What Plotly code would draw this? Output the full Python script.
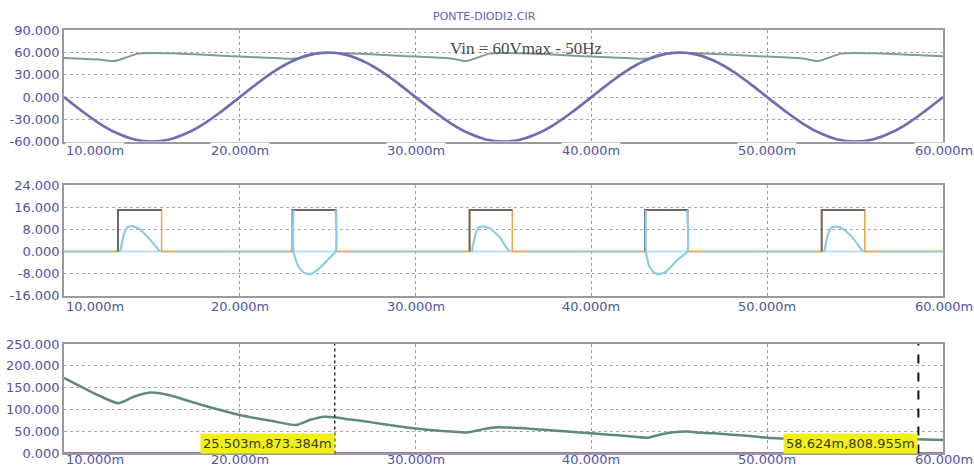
import plotly.graph_objects as go

# ---------------- data ----------------
X_TICKS = [10, 20, 30, 40, 50, 60]
X_TICK_TEXT = ["10.000m", "20.000m", "30.000m", "40.000m", "50.000m", "60.000m"]

Y1_TICKS = [-60, -30, 0, 30, 60, 90]
Y2_TICKS = [-16, -8, 0, 8, 16, 24]
Y3_TICKS = [0, 50, 100, 150, 200, 250]

TITLE = "PONTE-DIODI2.CIR"
SUBTITLE = "Vin = 60Vmax - 50Hz"

# top panel: input voltage (sampled every 1 ms)
T_VIN = list(range(10, 61))
VIN = [0, -18.5, -35.3, -48.5, -57.1, -60, -57.1, -48.5, -35.3, -18.5,
       0, 18.5, 35.3, 48.5, 57.1, 60, 57.1, 48.5, 35.3, 18.5,
       0, -18.5, -35.3, -48.5, -57.1, -60, -57.1, -48.5, -35.3, -18.5,
       0, 18.5, 35.3, 48.5, 57.1, 60, 57.1, 48.5, 35.3, 18.5,
       0, -18.5, -35.3, -48.5, -57.1, -60, -57.1, -48.5, -35.3, -18.5, 0]

# top panel: output voltage
T_VOUT = [10, 11, 12, 12.9, 13.5, 14.2, 15, 16, 17, 18, 19, 20, 21, 22, 23, 23.6, 24.2, 25,
          26, 27, 28, 29, 30, 31, 32, 32.9, 33.5, 34.2, 35, 36, 37, 38, 39, 40, 41, 42, 43,
          43.6, 44.2, 45, 46, 47, 48, 49, 50, 51, 52, 52.9, 53.5, 54.2, 55, 56, 57, 58, 59, 60]
VOUT = [52.5, 51.5, 50.5, 48.5, 53, 58.5, 59.5, 59, 58, 57, 55.5, 54.5, 53.5, 52.5, 51.5, 53.5, 57.5, 59.5,
        59, 58, 57, 55.5, 54.5, 53.5, 52, 48.5, 53, 58.5, 59.5, 59, 58, 57, 55.5, 54.5, 53.5, 52.5, 51.5,
        53.5, 57.5, 59.5, 59, 58, 57, 55.5, 54.5, 53.5, 52, 48.5, 53, 58.5, 59.5, 59, 58, 57, 56, 55]

# middle panel: diode current pulses
PULSE_START = [13.07, 23.0, 33.07, 43.05, 53.1]
PULSE_END = [15.55, 25.5, 35.5, 45.5, 55.55]
PULSE_HEIGHT = 15

# middle panel: capacitor current (cyan) shapes
CYAN_T = [13.2, 13.4, 13.6, 13.9, 14.3, 14.8, 15.2, 15.45, None,
          23.05, 23.05, 23.3, 23.6, 24.0, 24.4, 25.0, 25.45, 25.45, None,
          33.2, 33.4, 33.6, 33.9, 34.3, 34.8, 35.1, 35.35, None,
          43.1, 43.1, 43.3, 43.6, 43.9, 44.3, 44.9, 45.45, 45.45, None,
          53.25, 53.45, 53.65, 53.95, 54.35, 54.85, 55.2, 55.45]
CYAN_I = [0, 6, 8.8, 9.2, 8, 5, 2, 0, None,
          15, 0, -5, -7.5, -8.3, -6.8, -3, 0, 15, None,
          0, 6, 8.8, 9.1, 8, 5, 2, 0, None,
          15, 0, -5.5, -7.8, -8.2, -7, -3, 0, 15, None,
          0, 6, 8.6, 9.0, 8, 5, 2, 0]

# bottom panel
T_BOT = [10, 11, 12, 13.1, 14, 15, 16, 17, 18, 19, 20, 21, 22, 23.2, 24, 24.8, 25.5, 26, 27, 28,
         29, 30, 31, 32, 32.9, 33.8, 34.6, 35.5, 36, 37, 38, 39, 40, 41, 42, 43.2, 44, 44.8, 45.5,
         46, 47, 48, 49, 50, 51, 52, 53.2, 54, 55, 56, 57, 58, 59, 60]
V_BOT = [173, 152, 132, 115, 130, 139, 133, 121, 109, 98, 88, 80, 73, 65, 77, 84, 82, 79, 74, 68,
         62, 57, 53, 50, 48, 55, 60, 59, 58, 55, 52, 49, 46, 43, 40, 36, 44, 49, 50,
         48, 46, 43, 40, 36, 34, 32, 30, 34, 36, 35, 34, 33, 32, 31]
T_BOT0 = [10, 60]
V_BOT0 = [0.9, 0.8]

CURSOR_X = [25.4, 58.6]
CURSOR_TEXT = ["25.503m,873.384m", "58.624m,808.955m"]

# ---------------- figure ----------------
W, H = 974, 476
XD = [64 / W, 943 / W]
YD1 = [1 - 139 / H, 1 - 24 / H]
YD2 = [1 - 298 / H, 1 - 184 / H]
YD3 = [1 - 461 / H, 1 - 348 / H]

TICK_FONT = dict(family="DejaVu Sans", size=13, color="#5252a6")
LINE_C = "#9a9a9a"
GRID_H = "#a4a4c4"
GRID_V = "#9a9a9a"

fig = go.Figure()

# top
fig.add_trace(go.Scatter(x=T_VOUT, y=VOUT, mode="lines", line=dict(color="#7f9e90", width=2, shape="spline", smoothing=0.6),
                         xaxis="x", yaxis="y", hoverinfo="skip"))
fig.add_trace(go.Scatter(x=T_VIN, y=VIN, mode="lines", line=dict(color="#6e6eb2", width=2.7, shape="spline"),
                         xaxis="x", yaxis="y", hoverinfo="skip"))

# middle
fig.add_trace(go.Scatter(x=[10, 60], y=[0, 0], mode="lines", line=dict(color="#b8e2f2", width=2),
                         xaxis="x2", yaxis="y2", hoverinfo="skip"))
ox, oy = [10], [0]
for s, e in zip(PULSE_START, PULSE_END):
    ox += [s, s, e, e]
    oy += [0, PULSE_HEIGHT, PULSE_HEIGHT, 0]
ox.append(60)
oy.append(0)
fig.add_trace(go.Scatter(x=ox, y=oy, mode="lines", line=dict(color="#f0a444", width=1.5),
                         xaxis="x2", yaxis="y2", hoverinfo="skip"))
gx, gy = [], []
for s, e in zip(PULSE_START, PULSE_END):
    gx += [s, s, e, None]
    gy += [0, PULSE_HEIGHT, PULSE_HEIGHT, None]
fig.add_trace(go.Scatter(x=gx, y=gy, mode="lines", line=dict(color="#6f6660", width=2),
                         xaxis="x2", yaxis="y2", hoverinfo="skip"))
fig.add_trace(go.Scatter(x=CYAN_T, y=CYAN_I, mode="lines", line=dict(color="#8ccbe8", width=2.2, shape="spline", smoothing=0.5),
                         connectgaps=False, xaxis="x2", yaxis="y2", hoverinfo="skip"))

# bottom
fig.add_trace(go.Scatter(x=T_BOT0, y=V_BOT0, mode="lines", line=dict(color="#a070c0", width=2),
                         xaxis="x3", yaxis="y3", hoverinfo="skip"))
fig.add_trace(go.Scatter(x=T_BOT, y=V_BOT, mode="lines", line=dict(color="#5f8a7a", width=2.5, shape="spline", smoothing=0.7),
                         xaxis="x3", yaxis="y3", hoverinfo="skip"))

def xax(anchor):
    return dict(domain=XD, range=[10, 60], tickvals=X_TICKS, showticklabels=False, ticks="",
                showgrid=True, gridcolor=GRID_V, griddash="dot", gridwidth=1,
                showline=True, mirror=True, linecolor=LINE_C, linewidth=1.5,
                zeroline=False, anchor=anchor, fixedrange=True)

def yax(dom, rng, ticks, anchor):
    return dict(domain=dom, range=rng, tickvals=ticks, ticktext=[f"{v:.3f}" for v in ticks],
                tickfont=TICK_FONT, ticks="", ticklabelstandoff=0,
                showgrid=True, gridcolor=GRID_H, griddash="dot", gridwidth=1,
                showline=True, mirror=True, linecolor=LINE_C, linewidth=1.5,
                zeroline=False, anchor=anchor, fixedrange=True)

annotations = []
n = len(X_TICKS)
for panel, (xref, yref, shift, bg) in enumerate([("x", "y domain", -9, "white"),
                                                 ("x2", "y2 domain", -11, "rgba(0,0,0,0)"),
                                                 ("x3", "y3 domain", -8, "rgba(0,0,0,0)")]):
    for i, (v, t) in enumerate(zip(X_TICKS, X_TICK_TEXT)):
        a = dict(text=t, showarrow=False, font=TICK_FONT, bgcolor=bg, borderpad=0)
        if i == n - 1:
            a.update(x=1, xref="paper", xanchor="right", xshift=0)
        else:
            a.update(x=v, xref=xref, xanchor="left" if i == 0 else "center", xshift=1 if i == 0 else 0)
        if panel == 2:
            a.update(y=0, yref="paper", yanchor="bottom", yshift=0)
        else:
            a.update(y=0, yref=yref, yanchor="middle", yshift=shift)
        annotations.append(a)

annotations.append(dict(x=484 / W, y=1 - 10 / H, xref="paper", yref="paper", text=TITLE, showarrow=False,
                        font=dict(family="DejaVu Sans", size=11, color="#6060b4"), xanchor="center", yanchor="middle"))
annotations.append(dict(x=526 / W, y=1 - 43 / H, xref="paper", yref="paper", text=SUBTITLE, showarrow=False,
                        font=dict(family="Liberation Serif", size=17, color="#4a4a4a"), xanchor="center", yanchor="middle"))

for cx, ct in zip(CURSOR_X, CURSOR_TEXT):
    annotations.append(dict(x=cx, y=0, xref="x3", yref="y3 domain", text=ct, showarrow=False,
                            xanchor="right", yanchor="bottom", yshift=-1,
                            font=dict(family="DejaVu Sans", size=13, color="#3a3a20"),
                            bgcolor="#f0f018", borderpad=2))

shapes = [
    dict(type="line", xref="x3", yref="y3 domain", x0=CURSOR_X[0], x1=CURSOR_X[0], y0=0, y1=1,
         line=dict(color="#333333", width=1.5, dash="dot")),
    dict(type="line", xref="x3", yref="y3 domain", x0=CURSOR_X[1], x1=CURSOR_X[1], y0=0, y1=1,
         line=dict(color="#111111", width=2, dash="dash")),
]

fig.update_layout(
    width=W, height=H, margin=dict(l=0, r=0, t=0, b=0),
    paper_bgcolor="white", plot_bgcolor="white", showlegend=False,
    xaxis=xax("y"), yaxis=yax(YD1, [-60, 90], Y1_TICKS, "x"),
    xaxis2=xax("y2"), yaxis2=yax(YD2, [-16, 24], Y2_TICKS, "x2"),
    xaxis3=xax("y3"), yaxis3=yax(YD3, [0, 250], Y3_TICKS, "x3"),
    annotations=annotations, shapes=shapes,
)

fig.write_html("out.html", config={"displayModeBar": False},
               post_script="document.body.style.margin='0';document.body.style.overflow='hidden';")
